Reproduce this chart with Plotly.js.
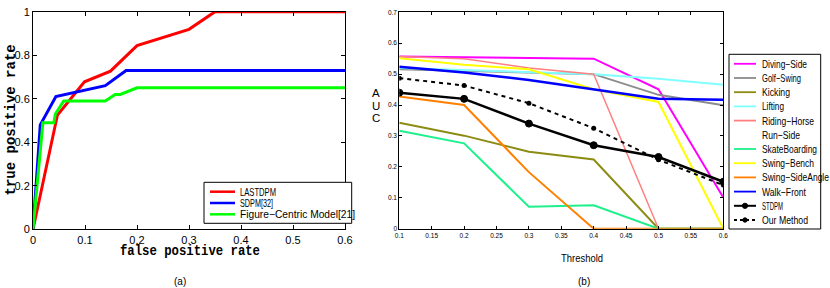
<!DOCTYPE html>
<html><head><meta charset="utf-8">
<script src="https://cdn.plot.ly/plotly-3.0.1.min.js"></script>
<style>html,body{margin:0;padding:0;background:#fff}#chart{width:830px;height:288px}</style>
</head><body><div id="chart"></div>
<script>
// ---------- Panel (a): ROC curves ----------
const rocNames = ['LASTDPM', 'SDPM[32]', 'Figure\u2212Centric Model[21]'];
const rocColors = ['#ff0000', '#0000ff', '#00ff00'];
const lastdpmX = [0, 0.047, 0.099, 0.149, 0.2, 0.25, 0.3, 0.35, 0.6];
const lastdpmY = [0, 0.525, 0.678, 0.727, 0.844, 0.88, 0.919, 1.0, 1.0];
const sdpmX = [0, 0.014, 0.044, 0.139, 0.179, 0.6];
const sdpmY = [0, 0.48, 0.61, 0.66, 0.73, 0.73];
const figX = [0, 0.019, 0.04, 0.043, 0.059, 0.139, 0.158, 0.168, 0.2, 0.6];
const figY = [0, 0.49, 0.49, 0.53, 0.59, 0.59, 0.62, 0.62, 0.65, 0.65];
const rocXTicks = [0, 0.1, 0.2, 0.3, 0.4, 0.5, 0.6];
const rocXTickText = ['0', '0.1', '0.2', '0.3', '0.4', '0.5', '0.6'];
const rocYTicks = [0, 0.2, 0.4, 0.6, 0.8, 1];
const rocYTickText = ['0', '0.2', '0.4', '0.6', '0.8', '1'];

// ---------- Panel (b): AUC vs threshold ----------
const thresholds = [0.1, 0.2, 0.3, 0.4, 0.5, 0.6];
const aucNames = ['Diving\u2212Side', 'Golf\u2212Swing', 'Kicking', 'Lifting', 'Riding\u2212Horse', 'Run\u2212Side',
  'SkateBoarding', 'Swing\u2212Bench', 'Swing\u2212SideAngle', 'Walk\u2212Front', 'STDPM', 'Our Method'];
const aucColors = ['#ff00ff', '#8c8c8c', '#8c8c14', '#80ffff', '#ff8080', 'rgba(0,0,0,0)',
  '#1ef08c', '#ffff00', '#ff8000', '#0000ff', '#000000', '#000000'];
const divingSide = [0.557, 0.555, 0.551, 0.55, 0.451, 0.101];
const golfSwing = [0.516, 0.51, 0.505, 0.5, 0.433, 0.399];
const kicking = [0.343, 0.301, 0.249, 0.224, 0, 0];
const lifting = [0.52, 0.513, 0.507, 0.5, 0.485, 0.466];
const ridingHorse = [0.557, 0.55, 0.52, 0.5, 0, 0];
const runSide = [0, 0, 0, 0, 0, 0];
const skateBoarding = [0.317, 0.276, 0.071, 0.076, 0, 0];
const swingBench = [0.551, 0.53, 0.516, 0.451, 0.41, 0];
const swingSideAngle = [0.428, 0.4, 0.183, 0, 0, 0];
const walkFront = [0.524, 0.505, 0.481, 0.45, 0.42, 0.417];
const stdpm = [0.44, 0.42, 0.34, 0.27, 0.232, 0.152];
const ourMethod = [0.487, 0.463, 0.406, 0.325, 0.223, 0.141];
const aucSeries = [divingSide, golfSwing, kicking, lifting, ridingHorse, runSide,
  skateBoarding, swingBench, swingSideAngle, walkFront, stdpm, ourMethod];
const aucXTicks = [0.1, 0.15, 0.2, 0.25, 0.3, 0.35, 0.4, 0.45, 0.5, 0.55, 0.6];
const aucXTickText = ['0.1', '0.15', '0.2', '0.25', '0.3', '0.35', '0.4', '0.45', '0.5', '0.55', '0.6'];
const aucYTicks = [0, 0.1, 0.2, 0.3, 0.4, 0.5, 0.6, 0.7];
const aucYTickText = ['0', '0.1', '0.2', '0.3', '0.4', '0.5', '0.6', '0.7'];

// ---------- build ----------
const W = 830, H = 288;
const px = v => v / W;
const py = v => 1 - v / H;
const SANS = "'Liberation Sans', Arial, sans-serif";
const MONO = "'Liberation Mono', 'Courier New', monospace";

const rocX = [lastdpmX, sdpmX, figX];
const rocY = [lastdpmY, sdpmY, figY];
const aucWidths = [2, 2, 2, 2, 1.5, 2, 2, 2, 2, 2.5, 2.5, 2];

const traces = [];
rocNames.forEach((n, i) => traces.push({
  type: 'scatter', mode: 'lines', name: n, x: rocX[i], y: rocY[i],
  xaxis: 'x', yaxis: 'y', line: {color: rocColors[i], width: 3}, showlegend: false
}));
aucNames.forEach((n, i) => {
  const t = {type: 'scatter', mode: 'lines', name: n, x: thresholds, y: aucSeries[i],
    xaxis: 'x2', yaxis: 'y2', line: {color: aucColors[i], width: aucWidths[i]}, showlegend: false};
  if (n === 'STDPM') { t.mode = 'lines+markers'; t.marker = {symbol: 'circle-dot', size: 7, color: '#000', line: {color: '#000', width: 1}}; }
  if (n === 'Our Method') { t.mode = 'lines+markers'; t.line.dash = '4px,4px'; t.marker = {symbol: 'circle', size: 5, color: '#000'}; }
  traces.push(t);
});

const shapes = [];
const annotations = [];
const squeeze = {}; // text -> rendered width in px (the reference font is condensed)

// legend (a)
const legAWidths = [36, 33, 115];
shapes.push({type: 'rect', xref: 'paper', yref: 'paper', x0: px(204), x1: px(351.7), y0: py(223.3), y1: py(182.3),
  line: {color: '#000', width: 1}, fillcolor: '#fff', layer: 'above'});
rocNames.forEach((n, i) => {
  const yy = 191.7 + i * 11.3;
  shapes.push({type: 'line', xref: 'paper', yref: 'paper', x0: px(210), x1: px(235), y0: py(yy), y1: py(yy),
    line: {color: rocColors[i], width: 2.5}, layer: 'above'});
  annotations.push({xref: 'paper', yref: 'paper', x: px(238), y: py(yy), xanchor: 'left', yanchor: 'middle',
    text: n, showarrow: false, font: {family: SANS, size: 10.5, color: '#000'}});
  squeeze[n] = legAWidths[i];
});

// legend (b)
const legBWidths = [45, 39, 28, 22, 52, 38, 55, 52, 67, 44, 21, 46];
shapes.push({type: 'rect', xref: 'paper', yref: 'paper', x0: px(729), x1: px(820.7), y0: py(229), y1: py(54.3),
  line: {color: '#000', width: 1}, fillcolor: '#fff', layer: 'above'});
aucNames.forEach((n, i) => {
  const yy = 63.8 + i * 14.2;
  const s = {type: 'line', xref: 'paper', yref: 'paper', x0: px(734), x1: px(756), y0: py(yy), y1: py(yy),
    line: {color: aucColors[i], width: n === 'STDPM' ? 2 : 1.8}, layer: 'above'};
  if (n === 'Our Method') s.line.dash = '3px,3px';
  shapes.push(s);
  if (n === 'STDPM' || n === 'Our Method') {
    const r = n === 'STDPM' ? 2.6 : 2.2;
    shapes.push({type: 'circle', xref: 'paper', yref: 'paper', x0: px(745 - r), x1: px(745 + r), y0: py(yy + r), y1: py(yy - r),
      line: {color: '#000', width: 1}, fillcolor: '#000', layer: 'above'});
  }
  annotations.push({xref: 'paper', yref: 'paper', x: px(760), y: py(yy), xanchor: 'left', yanchor: 'middle',
    text: n, showarrow: false, font: {family: SANS, size: 11, color: '#000'}});
  squeeze[n] = legBWidths[i];
});

// axis titles & captions
annotations.push({xref: 'paper', yref: 'paper', x: px(118), y: py(250.5), xanchor: 'left', yanchor: 'middle',
  text: 'false positive rate', showarrow: false, font: {family: MONO, size: 14, color: '#000', weight: 'bold'}});
squeeze['false positive rate'] = 140;
annotations.push({xref: 'paper', yref: 'paper', x: px(10), y: py(120.5), xanchor: 'center', yanchor: 'middle', textangle: -90,
  text: 'true positive rate', showarrow: false, font: {family: MONO, size: 14, color: '#000', weight: 'bold'}});
annotations.push({xref: 'paper', yref: 'paper', x: px(180), y: py(281.5), xanchor: 'center', yanchor: 'middle',
  text: '(a)', showarrow: false, font: {family: SANS, size: 10, color: '#000'}});
annotations.push({xref: 'paper', yref: 'paper', x: px(583.5), y: py(281), xanchor: 'center', yanchor: 'middle',
  text: '(b)', showarrow: false, font: {family: SANS, size: 10, color: '#000'}});
annotations.push({xref: 'paper', yref: 'paper', x: px(559.3), y: py(257.5), xanchor: 'left', yanchor: 'middle',
  text: 'Threshold', showarrow: false, font: {family: SANS, size: 11, color: '#000'}});
squeeze['Threshold'] = 42;
'AUC'.split('').forEach((c, i) => annotations.push({xref: 'paper', yref: 'paper', x: px(376), y: py(93 + i * 12.5),
  xanchor: 'center', yanchor: 'middle', text: c, showarrow: false, font: {family: SANS, size: 11.5, color: '#000'}}));

const axBase = {showgrid: false, zeroline: false, showline: true, linecolor: '#000', linewidth: 1,
  mirror: 'allticks', ticks: 'inside', tickcolor: '#000', tickwidth: 1, fixedrange: true};

const layout = {
  width: W, height: H, margin: {l: 0, r: 0, t: 0, b: 0},
  paper_bgcolor: '#fff', plot_bgcolor: '#fff', showlegend: false,
  xaxis: Object.assign({}, axBase, {domain: [px(33), px(345)], range: [0, 0.6], anchor: 'y',
    tickvals: rocXTicks, ticktext: rocXTickText, ticklen: 4, tickfont: {family: SANS, size: 11, color: '#000'}}),
  yaxis: Object.assign({}, axBase, {domain: [py(229.3), py(11.7)], range: [0, 1], anchor: 'x',
    tickvals: rocYTicks, ticktext: rocYTickText, ticklen: 4, tickfont: {family: SANS, size: 11, color: '#000'}}),
  xaxis2: Object.assign({}, axBase, {domain: [px(399.3), px(723.3)], range: [0.1, 0.6], anchor: 'y2',
    tickvals: aucXTicks, ticktext: aucXTickText, ticklen: 3, tickfont: {family: SANS, size: 6.5, color: '#000'}}),
  yaxis2: Object.assign({}, axBase, {domain: [py(228.7), py(12.3)], range: [0, 0.7], anchor: 'x2',
    tickvals: aucYTicks, ticktext: aucYTickText, ticklen: 3, tickfont: {family: SANS, size: 6.5, color: '#000'}}),
  shapes: shapes, annotations: annotations
};

Plotly.newPlot('chart', traces, layout, {staticPlot: true, displayModeBar: false}).then(gd => {
  gd.querySelectorAll('text.annotation-text').forEach(t => {
    const w = squeeze[t.textContent];
    if (w) {
      const left = t.getBBox().x;
      t.setAttribute('text-anchor', 'start');
      t.style.textAnchor = 'start';
      t.setAttribute('x', left);
      t.querySelectorAll('tspan').forEach(s => { if (s.hasAttribute('x')) s.setAttribute('x', left); });
      t.setAttribute('textLength', w);
      t.setAttribute('lengthAdjust', 'spacingAndGlyphs');
    }
  });
});
</script>
</body></html>
